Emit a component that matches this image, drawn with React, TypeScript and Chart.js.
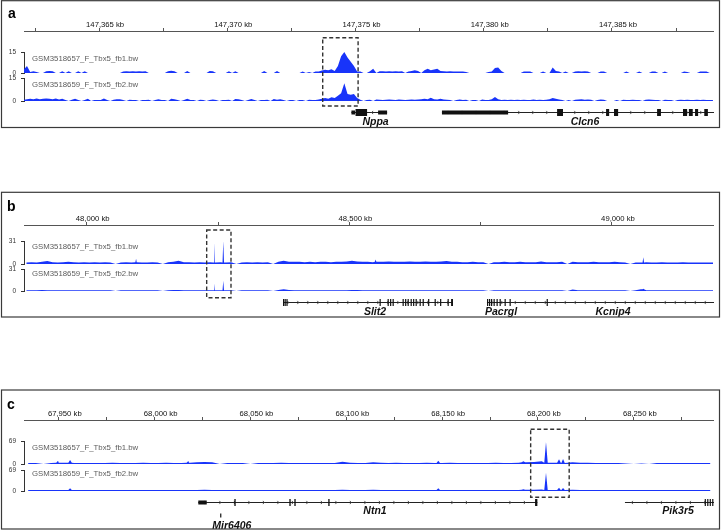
import React, { useEffect, useRef } from 'react';
import { Chart, registerables } from 'chart.js';

Chart.register(...registerables);

const FONT = '"Liberation Sans", Arial, Helvetica, sans-serif';
const SIGNAL = 'rgb(24, 52, 250)';
const TRACK_NAMES = ['GSM3518657_F_Tbx5_fb1.bw', 'GSM3518659_F_Tbx5_fb2.bw'];

type Exon = [number, number, number]; // start kb, end kb, 1 = coding / 0 = UTR
interface Gene { name: string; strand: number; span: [number, number] | null; exons: Exon[]; labelKb: number; }

// ---------------- panel a : Nppa / Clcn6 (0.125 kb bins) ----------------
const aBinStartKb = 147362.0;
const aBinKb = 0.125;
const aRangeKb = [147362.071, 147388.94];
const aDataMax = 15;
const aTickKb = [147362.5, 147365, 147367.5, 147370, 147372.5, 147375, 147377.5, 147380, 147382.5, 147385, 147387.5];
const aLabelKb = [147365, 147370, 147375, 147380, 147385];
const aFb1 = [
  2.5, 5, 0.8, 1.2, 0.8, 0, 0, 1.3, 1.5, 1.2, 0, 0,
  1.2, 0, 1.2, 0, 0, 1.2, 0, 1.2, 0, 0, 0, 0,
  0, 0, 0, 0, 0, 0, 0, 1, 1.2, 1, 1.2, 1.1,
  1.2, 1, 1.2, 0, 0, 0, 0, 0, 0, 1.3, 1.6, 1.2,
  0, 0, 0, 1.5, 0, 0, 0, 0, 0, 0, 1.5, 1.2,
  0, 0, 0, 0, 1.3, 0, 1.3, 0, 0, 0, 0, 0,
  0, 0, 0, 1.5, 0, 0, 0, 1.5, 0, 0, 0, 0,
  0, 0, 0, 1, 0, 0.8, 0, 1, 1, 1.8, 2.3, 2,
  2.7, 1.5, 5, 12, 15, 11, 8, 5, 1, 1, 0, 0,
  1.2, 3, 0, 1.2, 1.2, 1, 1.2, 1, 1.2, 1, 1.2, 0,
  1, 1.5, 2, 1.5, 0, 2, 3, 2, 2.5, 3, 1.5, 1.2,
  1, 1.2, 1, 1, 1, 1, 0.8, 0, 0, 0, 0, 0,
  0, 0.8, 1, 3.5, 4, 1.5, 0, 0, 0, 0, 0, 0,
  1, 1, 1, 0, 0, 0, 1, 0, 0, 4, 1.5, 1,
  0, 1, 0, 0, 1, 1.2, 1, 1.2, 1, 0, 0, 0,
  1, 1, 0, 0, 0, 0, 0, 0, 1, 0, 0, 0,
  1, 0, 0, 0, 1, 1, 0, 0, 1, 0, 0, 0,
  0, 0, 1, 0.8, 0, 0, 0, 1, 1, 1, 0, 0,
];
const aFb2 = [
  0.8, 1.2, 1.5, 1.2, 1.7, 1.2, 1.4, 1.7, 1.5, 1.2, 1.7, 1,
  1.5, 0.7, 0, 0.8, 1.5, 0.7, 0, 0.7, 1.5, 0, 0.7, 0.7,
  0.7, 1.6, 0.7, 0, 0.8, 1.2, 1.2, 0.7, 0, 0.8, 0.7, 0.7,
  0, 0.7, 0.7, 0.8, 0, 0.7, 1.2, 0.7, 0.7, 0, 1.5, 1.2,
  0.7, 0, 0.7, 1.5, 0.7, 0.7, 0, 0.8, 0.7, 0, 0.7, 1,
  0.7, 0, 0.7, 0.7, 0.8, 0, 1.3, 1.2, 0.7, 0, 0.7, 1.3,
  0.7, 0, 0.7, 0.7, 0.8, 0, 1.3, 0.8, 1.2, 0.7, 0, 0.7,
  0.7, 0, 0.7, 0.7, 0, 0.8, 0.7, 0.7, 1, 1.5, 2, 1.5,
  2.5, 2, 3.5, 5, 11.5, 4.5, 4, 4.5, 2, 0.8, 0, 0.7,
  0.8, 0, 1, 0.8, 0.7, 0.8, 1, 0.8, 0.7, 1, 0.8, 0.7,
  0.8, 1, 0.8, 1, 1.2, 1.5, 1.2, 2.2, 1.2, 1, 1.5, 1,
  0.8, 0.7, 0, 0.7, 1, 0.7, 0.8, 0, 0.7, 0.7, 0, 1,
  0.7, 0.7, 1.2, 2.6, 1.2, 0.7, 0.8, 0.7, 0.8, 0.7, 0.8, 0.7,
  0.8, 0.7, 0.7, 1, 0.7, 0.8, 0.7, 0.8, 1.2, 2, 1.5, 1,
  0.7, 0, 0.7, 0, 0.8, 1, 1.2, 0.8, 1, 0.8, 0, 0.7,
  1, 0.8, 0, 0, 0, 0.7, 0, 0.8, 0.7, 0.7, 0.8, 0.7,
  0.7, 0, 0.8, 1, 0.8, 0.7, 0.7, 0, 0.8, 0.7, 0.7, 0,
  0.7, 0.8, 0.7, 0.8, 0.7, 0.7, 0.8, 0.7, 0.8, 0.7, 0.7, 0.7,
];
const aSpikes1: number[][] = [];
const aSpikes2: number[][] = [];
const aBoxKb = [147373.72, 147375.1];
const aGenes: Gene[] = [
  { name: 'Nppa', strand: -1, span: [147374.84, 147376.23], labelKb: 147375.78,
    exons: [[147374.84, 147374.98, 0], [147375.0, 147375.45, 1], [147375.88, 147376.23, 0]] },
  { name: 'Clcn6', strand: 1, span: [147378.37, 147389.5], labelKb: 147383.95,
    exons: [[147378.37, 147380.95, 0], [147382.86, 147383.09, 1], [147384.77, 147384.89, 1],
      [147385.08, 147385.24, 1], [147386.76, 147386.91, 1], [147387.77, 147387.93, 1],
      [147388.0, 147388.15, 1], [147388.24, 147388.36, 1], [147388.6, 147388.74, 1]] },
];

// ---------------- panel b : Slit2 / Pacrgl / Kcnip4 (10 kb bins) ----------------
const bBinStartKb = 47880;
const bBinKb = 10;
const bRangeKb = [47880.64, 49192.3];
const bDataMax = 31;
const bTickKb = [48000, 48250, 48500, 48750, 49000];
const bLabelKb = [48000, 48500, 49000];
const bFb1 = [
  2, 2.5, 2, 3, 4, 2.5, 2, 2.5, 3, 2.5, 2, 2.5,
  2, 2.5, 2, 2.5, 2, 0, 2, 2.5, 2, 2.5, 2, 2,
  2.5, 2, 0, 2.5, 3, 4.5, 2.5, 2.5, 2, 2.5, 2, 2.5,
  2, 2.5, 2, 2.5, 0, 2, 2.5, 2, 2.5, 2, 2.5, 0,
  3, 4.5, 3, 3, 3, 2.5, 3, 2.5, 3, 3, 2.5, 3,
  3, 3.5, 4.5, 3.5, 3, 3, 2.5, 3, 3, 3.5, 3, 3,
  3, 3.5, 3, 3, 3.5, 3, 3, 3.5, 4, 3, 3, 2.5,
  2.5, 3, 2.5, 2.5, 0, 2.5, 2.5, 3, 2.5, 2.5, 3, 2.5,
  2.5, 2.5, 3.5, 2.5, 2.5, 2.5, 3, 0, 3, 2.5, 2.5, 2.5,
  3, 2.5, 2.5, 2.5, 3, 2.5, 2, 0, 2, 2, 2.5, 2,
  2, 2.5, 2, 2, 2, 2.5, 2, 2, 2, 2, 2, 2,
];
const bFb2 = [
  1.2, 1.2, 1.2, 1.5, 1.2, 1.2, 1.2, 1.2, 1.2, 1.2, 1.2, 1.2,
  1.2, 1.2, 1.2, 1.2, 1.2, 0, 1.2, 1.2, 1.2, 1.2, 1.2, 1.2,
  1.2, 1.2, 0, 1.2, 1.5, 1.5, 1.2, 1.2, 1.2, 1.2, 1.2, 1.2,
  1.2, 1.2, 1.2, 1.2, 0, 1.2, 1.2, 1.2, 1.2, 1.2, 1.2, 0,
  1.5, 2.5, 1.5, 1.2, 1.2, 1.2, 1.2, 1.2, 1.2, 1.2, 1.2, 1.2,
  1.2, 1.2, 1.5, 1.5, 1.2, 1.2, 1.2, 1.2, 1.2, 1.2, 1.2, 1.2,
  1.2, 1.2, 1.2, 1.2, 1.2, 1.2, 1.2, 1.2, 1.2, 1.2, 1.2, 1.2,
  1.2, 1.2, 1.2, 1.2, 0, 1.2, 1.2, 1.2, 1.2, 1.2, 1.2, 1.2,
  1.2, 1.2, 1.2, 1.2, 1.2, 1.2, 1.2, 0, 2, 1.2, 1.2, 1.2,
  1.2, 1.2, 1.2, 1.2, 1.2, 1.2, 1.2, 0, 1.2, 2.5, 1.2, 1.2,
  1.2, 1.2, 1.2, 1.2, 1.2, 1.2, 1.2, 1.2, 1.2, 1.2, 1.2, 1.2,
];
const bSpikes1 = [[48242.3, 30], [48260.0, 31], [48094.0, 7], [48550.0, 6], [49059.6, 9]];
const bSpikes2 = [[48242.3, 11], [48260.0, 14.5], [49059.6, 3]];
const bBoxKb = [48228.4, 48274.7];
const bGenes: Gene[] = [
  { name: 'Slit2', strand: 1, span: [48373.7, 48697.3], labelKb: 48548.8,
    exons: [[48373.7, 48375.4, 1], [48376.7, 48378.3, 1], [48380.2, 48381.8, 1], [48557.5, 48559.1, 1],
      [48572.8, 48574.4, 1], [48577.5, 48579.1, 1], [48582.3, 48583.9, 1], [48601.3, 48602.9, 1],
      [48606.1, 48607.7, 1], [48610.9, 48612.5, 1], [48616.6, 48618.2, 1], [48621.3, 48622.9, 1],
      [48626.1, 48627.7, 1], [48633.7, 48635.3, 1], [48639.5, 48641.1, 1], [48649.9, 48651.5, 1],
      [48662.3, 48663.9, 1], [48672.7, 48674.3, 1], [48687.0, 48688.6, 1], [48693.7, 48697.3, 1]] },
  { name: 'Pacrgl', strand: 1, span: [48762.0, 48806.0], labelKb: 48788.7,
    exons: [[48762.1, 48763.7, 1], [48765.9, 48767.5, 1], [48769.7, 48771.3, 1], [48774.5, 48776.1, 1],
      [48780.2, 48781.8, 1], [48786.0, 48787.6, 1], [48795.5, 48796.8, 1], [48805.0, 48806.3, 1]] },
  { name: 'Kcnip4', strand: -1, span: [48806.0, 49200.0], labelKb: 49001.9,
    exons: [[48875.6, 48877.0, 1]] },
];

// ---------------- panel c : Ntn1 / Pik3r5 (4 kb bins) ----------------
const cBinStartKb = 67932;
const cBinKb = 4;
const cRangeKb = [67931.86, 68291.33];
const cDataMax = 69;
const cTickKb = [67950, 67975, 68000, 68025, 68050, 68075, 68100, 68125, 68150, 68175, 68200, 68225, 68250, 68275];
const cLabelKb = [67950, 68000, 68050, 68100, 68150, 68200, 68250];
const cFb1 = [
  3, 3, 0, 3, 3.5, 4, 3, 3, 3, 3,
  3, 3.5, 3, 3, 3, 3.5, 3, 3, 3.5, 3,
  3, 3.5, 5, 6, 5, 0, 3, 3, 3, 0,
  3, 3, 3, 3.5, 3, 3, 3, 3, 3, 3,
  3, 7, 3.5, 3, 3, 5, 3.5, 3, 3.5, 3,
  3, 3, 3.5, 3, 3, 3.5, 3, 3, 3, 3,
  3, 3.5, 3, 3, 4, 5, 6, 8, 4, 3.5,
  3, 5, 3.5, 3.5, 3, 3, 3, 3, 1.5, 0,
  1.5, 0, 3, 3, 3, 3, 3, 3, 3, 3,
];
const cFb2 = [
  3, 3, 3, 3, 3, 3.5, 3, 3, 3, 3,
  3, 3, 3, 3, 3, 3, 3, 3, 3, 3,
  3, 3, 3.5, 4, 3.5, 3, 3, 3, 3, 3,
  3, 3, 3, 3, 3, 3, 3, 3, 3, 3,
  3, 4, 3, 3, 3, 4, 3, 3, 3, 3,
  3, 3, 3, 3, 3, 3, 3, 3, 3, 3,
  3, 3, 3, 3, 3.5, 4, 4, 5, 3.5, 3,
  3, 4, 3, 3, 3, 3, 3, 3, 3, 3,
  3, 3, 3, 3, 3, 3, 3, 3, 3, 3,
];
const cSpikes1 = [[67949.6, 10], [67955.9, 12], [68017.6, 9], [68148.0, 10], [68192.4, 8], [68204.2, 66], [68211.0, 14], [68213.1, 15]];
const cSpikes2 = [[67955.9, 9], [68148.0, 9], [68192.4, 6], [68204.2, 60], [68211.0, 11], [68213.1, 10]];
const cBoxKb = [68196.2, 68216.3];
const cGenes: Gene[] = [
  { name: 'Ntn1', strand: 1, span: [68022.8, 68199.7], labelKb: 68115.0,
    exons: [[68022.8, 68027.2, 0], [68041.6, 68042.3, 1], [68070.3, 68071.0, 1], [68072.9, 68073.6, 1],
      [68090.6, 68091.3, 1], [68198.5, 68199.7, 1]] },
  { name: 'Mir6406', strand: 1, span: null, labelKb: 68040.3, exons: [[68034.2, 68034.7, 0]] },
  { name: 'Pik3r5', strand: -1, span: [68245.4, 68300.0], labelKb: 68273.1,
    exons: [[68287.0, 68287.6, 1], [68288.3, 68288.9, 1], [68289.6, 68290.2, 1], [68290.9, 68291.5, 1]] },
];

// per-gene drawing offsets relative to the gene row
const GENE_LAYOUT: Record<string, { dy: number; labelDy: number }> = {
  Mir6406: { dy: 13, labelDy: 26 },
};

interface PanelSpec {
  letter: string; canvasTop: number; canvasH: number; axisY: number; padBottom: number;
  rows: number[]; // top spacer, track 1, gap, track 2, gene area
  frame: [number, number]; letterPos: [number, number];
  range: number[]; tickKb: number[]; labelKb: number[]; dataMax: number;
  binStart: number; binKb: number; fb1: number[]; fb2: number[];
  spikes1: number[][]; spikes2: number[][]; spikeHalfKb: number;
  nameDy: [number, number]; boxKb: number[]; boxPad: [number, number];
  genes: Gene[]; geneDy: number; labelDy: number; chevronStep: number;
}

const PANELS: PanelSpec[] = [
  {
    letter: 'a', canvasTop: 0, canvasH: 130, axisY: 31, padBottom: 3, rows: [21, 21, 5, 23, 26],
    frame: [0.7, 127.5], letterPos: [8, 18.3],
    range: aRangeKb, tickKb: aTickKb, labelKb: aLabelKb, dataMax: aDataMax,
    binStart: aBinStartKb, binKb: aBinKb, fb1: aFb1, fb2: aFb2, spikes1: aSpikes1, spikes2: aSpikes2, spikeHalfKb: 0.05,
    nameDy: [7, 7], boxKb: aBoxKb, boxPad: [14.3, 5], genes: aGenes, geneDy: 10.7, labelDy: 12.8, chevronStep: 14,
  },
  {
    letter: 'b', canvasTop: 188, canvasH: 132, axisY: 37, padBottom: 3, rows: [16, 23, 5, 22, 26],
    frame: [4.3, 129], letterPos: [7, 23],
    range: bRangeKb, tickKb: bTickKb, labelKb: bLabelKb, dataMax: bDataMax,
    binStart: bBinStartKb, binKb: bBinKb, fb1: bFb1, fb2: bFb2, spikes1: bSpikes1, spikes2: bSpikes2, spikeHalfKb: 1.4,
    nameDy: [5.7, 5], boxKb: bBoxKb, boxPad: [11, 6.7], genes: bGenes, geneDy: 10.5, labelDy: 12, chevronStep: 10,
  },
  {
    letter: 'c', canvasTop: 386, canvasH: 144, axisY: 34, padBottom: 1, rows: [21, 23, 6, 21, 38],
    frame: [4, 143], letterPos: [7, 22.5],
    range: cRangeKb, tickKb: cTickKb, labelKb: cLabelKb, dataMax: cDataMax,
    binStart: cBinStartKb, binKb: cBinKb, fb1: cFb1, fb2: cFb2, spikes1: cSpikes1, spikes2: cSpikes2, spikeHalfKb: 0.9,
    nameDy: [6.7, 4], boxKb: cBoxKb, boxPad: [11.7, 6.3], genes: cGenes, geneDy: 10.7, labelDy: 11.5, chevronStep: 14.5,
  },
];

// bin values become points at bin centres; narrow peaks are inserted at their own positions
function buildPoints(startKb: number, binKb: number, bins: number[], spikes: number[][], halfKb: number) {
  const pts = bins.map((v, i) => ({ x: startKb + binKb * (i + 0.5), y: v }));
  for (const [kb, v] of spikes) {
    const idx = Math.min(bins.length - 1, Math.max(0, Math.floor((kb - startKb) / binKb)));
    const base = bins[idx];
    pts.push({ x: kb - halfKb, y: base }, { x: kb, y: v }, { x: kb + halfKb, y: base });
  }
  pts.sort((a, b) => a.x - b.x);
  return pts;
}

function formatKb(v: number) {
  return `${v.toLocaleString('en-US')} kb`;
}

function trackAxis(max: number, weight: number, h: number) {
  return {
    type: 'linear', position: 'left', stack: 'tracks', stackWeight: h, weight,
    min: 0, max,
    afterBuildTicks: (s: any) => { s.ticks = [{ value: 0 }, { value: max }]; },
    afterFit: (s: any) => { s.width = 24; s.paddingTop = 0; s.paddingBottom = 0; },
    ticks: {
      autoSkip: false, padding: 5, color: '#333',
      font: { family: FONT, size: 6.5 },
      callback: (v: number) => String(v),
    },
    grid: { drawOnChartArea: false, drawTicks: true, tickLength: 3, color: '#333', lineWidth: 1 },
    border: { display: true, color: '#333', width: 1 },
  };
}

function spacerAxis(weight: number, h: number) {
  return { type: 'linear', display: false, position: 'left', stack: 'tracks', stackWeight: h, weight };
}

function drawGenes(ctx: CanvasRenderingContext2D, chart: any, p: PanelSpec) {
  const xs = chart.scales.x;
  const yg = chart.scales.yGene;
  const area = chart.chartArea;
  const rowY = Math.round(yg.top + p.geneDy) + 0.5;
  ctx.save();
  ctx.beginPath();
  ctx.rect(area.left, 0, area.right - area.left + 1, chart.height);
  ctx.clip();
  ctx.fillStyle = '#111';
  for (const g of p.genes) {
    const lay = GENE_LAYOUT[g.name];
    const gy = rowY + (lay ? lay.dy : 0);
    if (g.span) {
      const x0 = xs.getPixelForValue(g.span[0]);
      const x1 = xs.getPixelForValue(g.span[1]);
      ctx.strokeStyle = '#222';
      ctx.lineWidth = 1;
      ctx.beginPath();
      ctx.moveTo(x0, gy);
      ctx.lineTo(x1, gy);
      ctx.stroke();
      // small strand marks along the intron line
      ctx.strokeStyle = '#444';
      ctx.lineWidth = 0.9;
      const end = Math.min(x1, area.right) - 3;
      for (let cx = x0 + p.chevronStep / 2; cx < end; cx += p.chevronStep) {
        ctx.beginPath();
        ctx.moveTo(cx - 0.6 * g.strand, gy - 1.6);
        ctx.lineTo(cx + 0.6 * g.strand, gy);
        ctx.lineTo(cx - 0.6 * g.strand, gy + 1.6);
        ctx.stroke();
      }
    }
    for (const [s, e, coding] of g.exons) {
      const x0 = xs.getPixelForValue(s);
      const x1 = xs.getPixelForValue(e);
      const h = coding ? 7 : 4;
      ctx.fillRect(x0, gy - h / 2, Math.max(1.2, x1 - x0), h);
    }
  }
  ctx.restore();

  ctx.save();
  ctx.fillStyle = '#111';
  ctx.font = `italic bold 10.5px ${FONT}`;
  ctx.textAlign = 'center';
  ctx.textBaseline = 'alphabetic';
  for (const g of p.genes) {
    const lay = GENE_LAYOUT[g.name];
    ctx.fillText(g.name, xs.getPixelForValue(g.labelKb), rowY + (lay ? lay.labelDy : p.labelDy));
  }
  ctx.restore();
}

function decorPlugin(p: PanelSpec) {
  return {
    id: `decor_${p.letter}`,
    afterDraw(chart: any) {
      const ctx: CanvasRenderingContext2D = chart.ctx;
      const area = chart.chartArea;
      const xs = chart.scales.x;
      const y1 = chart.scales.y1;
      const y2 = chart.scales.y2;

      // track names
      ctx.save();
      ctx.font = `7.8px ${FONT}`;
      ctx.fillStyle = '#5c5c5c';
      ctx.textAlign = 'left';
      ctx.textBaseline = 'middle';
      ctx.fillText(TRACK_NAMES[0], area.left + 8, y1.top + p.nameDy[0]);
      ctx.fillText(TRACK_NAMES[1], area.left + 8, y2.top + p.nameDy[1]);
      ctx.restore();

      // highlighted peak region
      const bx0 = xs.getPixelForValue(p.boxKb[0]);
      const bx1 = xs.getPixelForValue(p.boxKb[1]);
      const by0 = y1.top - p.boxPad[0];
      const by1 = y2.bottom + p.boxPad[1];
      ctx.save();
      ctx.strokeStyle = '#333';
      ctx.lineWidth = 1.4;
      ctx.setLineDash([4, 2.5]);
      ctx.strokeRect(bx0, by0, bx1 - bx0, by1 - by0);
      ctx.restore();

      drawGenes(ctx, chart, p);

      // panel frame and letter
      ctx.save();
      ctx.strokeStyle = '#3a3a3a';
      ctx.lineWidth = 1.2;
      ctx.strokeRect(1.5, p.frame[0], 718, p.frame[1] - p.frame[0]);
      ctx.fillStyle = '#000';
      ctx.font = `bold 14px ${FONT}`;
      ctx.textAlign = 'left';
      ctx.textBaseline = 'alphabetic';
      ctx.fillText(p.letter, p.letterPos[0], p.letterPos[1]);
      ctx.restore();
    },
  };
}

function buildConfig(p: PanelSpec): any {
  const [padTop, t1, gap, t2, geneH] = p.rows;
  const dataset = (bins: number[], spikes: number[][], axis: string) => ({
    type: 'line',
    data: buildPoints(p.binStart, p.binKb, bins, spikes, p.spikeHalfKb),
    xAxisID: 'x',
    yAxisID: axis,
    fill: 'origin',
    backgroundColor: SIGNAL,
    borderColor: 'rgba(0,0,0,0)',
    borderWidth: 0,
    pointRadius: 0,
    tension: 0,
  });
  return {
    type: 'line',
    data: { datasets: [dataset(p.fb1, p.spikes1, 'y1'), dataset(p.fb2, p.spikes2, 'y2')] },
    options: {
      animation: false,
      responsive: false,
      events: [],
      layout: { padding: { left: 0, right: 8, top: 0, bottom: p.padBottom } },
      plugins: { legend: { display: false }, tooltip: { enabled: false } },
      scales: {
        x: {
          type: 'linear', position: 'top', min: p.range[0], max: p.range[1],
          afterBuildTicks: (s: any) => { s.ticks = p.tickKb.map((v) => ({ value: v })); },
          afterFit: (s: any) => { s.height = p.axisY; s.paddingLeft = 0; s.paddingRight = 0; },
          ticks: {
            autoSkip: false, maxRotation: 0, minRotation: 0, padding: -1.5, labelOffset: 6,
            color: '#111', font: { family: FONT, size: 7.7 },
            callback: (v: number) => (p.labelKb.includes(v) ? formatKb(v) : ''),
          },
          grid: { drawOnChartArea: false, drawTicks: true, tickLength: 3, color: '#555', lineWidth: 1 },
          border: { display: true, color: '#555', width: 1 },
        },
        yGene: spacerAxis(1, geneH),
        y2: trackAxis(p.dataMax, 2, t2),
        yGap: spacerAxis(3, gap),
        y1: trackAxis(p.dataMax, 4, t1),
        yPad: spacerAxis(5, padTop),
      },
    },
    plugins: [decorPlugin(p)],
  };
}

export default function App() {
  const refA = useRef<HTMLCanvasElement>(null);
  const refB = useRef<HTMLCanvasElement>(null);
  const refC = useRef<HTMLCanvasElement>(null);
  const refs = [refA, refB, refC];

  useEffect(() => {
    const charts = PANELS.map((p, i) => new Chart(refs[i].current as HTMLCanvasElement, buildConfig(p)));
    return () => charts.forEach((c) => c.destroy());
  }, []);

  return (
    <div style={{ position: 'absolute', left: 0, top: 0, width: 721, height: 530, background: '#fff' }}>
      {PANELS.map((p, i) => (
        <canvas
          key={p.letter}
          ref={refs[i]}
          width={721}
          height={p.canvasH}
          style={{ position: 'absolute', left: 0, top: p.canvasTop, width: 721, height: p.canvasH }}
        />
      ))}
    </div>
  );
}
